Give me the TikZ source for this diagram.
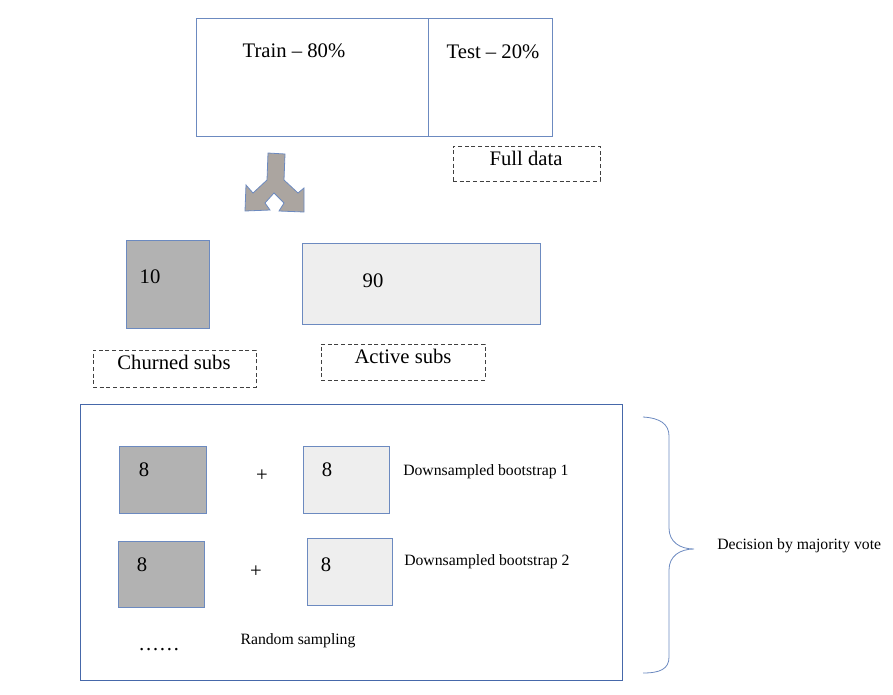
\documentclass[tikz,border=0pt]{standalone}
\usepackage{fontspec}
\setmainfont{Liberation Serif}
\usetikzlibrary{positioning}
\definecolor{boxline}{RGB}{108,138,192}
\definecolor{bigline}{RGB}{70,104,170}
\definecolor{churnfill}{RGB}{178,178,178}
\definecolor{activefill}{RGB}{238,238,238}
\definecolor{forkfill}{RGB}{171,165,160}

\begin{document}
\begin{tikzpicture}[x=0.75pt,y=-0.75pt,
  box/.style={draw=boxline,line width=0.6pt,inner sep=0pt},
  churn/.style={box,fill=churnfill},
  active/.style={box,fill=activefill},
  tag/.style={draw=black!75,dash pattern=on 3pt off 2pt,line width=0.6pt,inner sep=0pt},
  big/.style={font=\fontsize{15.5}{18}\selectfont,inner sep=0pt},
  small/.style={font=\fontsize{11.8}{14}\selectfont,inner sep=0pt}]
  \useasboundingbox (0,0) rectangle (893,694);

  % full data split
  \node[box,minimum width=174pt,minimum height=88.5pt] (train) at (312,77) {};
  \node[box,minimum width=93pt,minimum height=88.5pt] (test) at (490,77) {};
  \node[big] (trainlbl) at (294,51) {Train – 80\%};
  \node[big] (testlbl) at (493,52) {Test – 20\%};
  \node[tag,minimum width=110.25pt,minimum height=26.25pt] (fulltag) at (526.5,163.5) {};
  \node[big] (fulllbl) at (526,158) {Full data};

  % fork arrow
  \filldraw[fill=forkfill,draw=boxline,line width=0.6pt]
    (268,153) -- (285,154) -- (284,180) -- (298,193) -- (304,188)
    -- (304,212) -- (279,211) -- (284,203) -- (274,193) -- (265,203)
    -- (270,210) -- (245,211) -- (246,185) -- (253,193) -- (267,180) -- cycle;

  % train split by class
  \node[churn,minimum width=62.25pt,minimum height=66pt] (churned) at (167.5,284) {};
  \node[big] (churnednum) at (150,277) {10};
  \node[active,minimum width=178.5pt,minimum height=60.75pt] (active) at (421,283.5) {};
  \node[big] (activenum) at (373,281) {90};
  \node[tag,minimum width=122.25pt,minimum height=27.75pt] (churntag) at (174.5,368.5) {};
  \node[big] (churnlbl) at (174,362) {Churned subs};
  \node[tag,minimum width=123pt,minimum height=27pt] (activetag) at (403,362) {};
  \node[big] (activelbl) at (403,356) {Active subs};

  % bootstraps
  \node[draw=bigline,line width=0.6pt,minimum width=406.5pt,minimum height=207pt] (sampling) at (351,542) {};
  \node[churn,minimum width=65.25pt,minimum height=50.25pt] (c1) at (162.5,479.5) {};
  \node[big] (c1num) at (144,470) {8};
  \node[big] (plus1) at (262,476) {+};
  \node[active,minimum width=64.5pt,minimum height=50.25pt] (a1) at (346,479.5) {};
  \node[big] (a1num) at (327,470) {8};
  \node[small,anchor=west] (boot1) at (403,472) {Downsampled bootstrap 1};
  \node[churn,minimum width=64.5pt,minimum height=49.5pt] (c2) at (161,574) {};
  \node[big] (c2num) at (142,565) {8};
  \node[big] (plus2) at (256,572) {+};
  \node[active,minimum width=63.75pt,minimum height=50.25pt] (a2) at (349.5,571.5) {};
  \node[big] (a2num) at (326,565) {8};
  \node[small,anchor=west] (boot2) at (404,562) {Downsampled bootstrap 2};
  \node[big] (more) at (159,650) {……};
  \node[small] (randlbl) at (298,641) {Random sampling};

  % brace
  \draw[boxline,line width=0.6pt] (643,417) .. controls (660,418) and (669,424) .. (669,436)
    -- (669,528) .. controls (669,542) and (680,549) .. (694,549)
    .. controls (680,549) and (669,556) .. (669,570)
    -- (669,657) .. controls (669,669) and (660,673) .. (643,673);
  \node[small,anchor=west] (vote) at (717,546) {Decision by majority vote};
\end{tikzpicture}
\end{document}
